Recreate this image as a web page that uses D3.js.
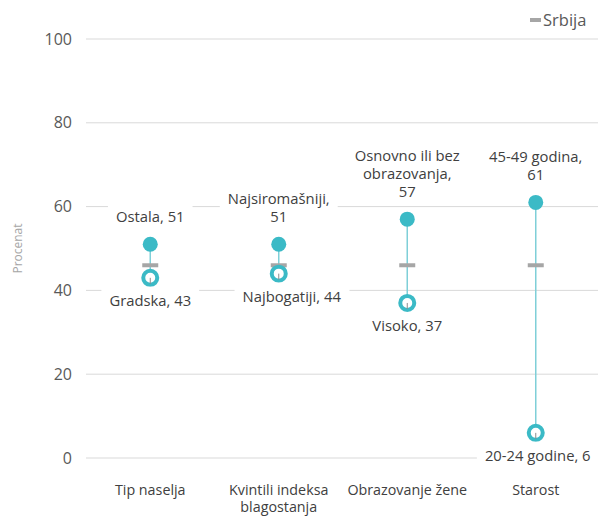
<!DOCTYPE html>
<html><head><meta charset="utf-8">
<script src="https://cdn.jsdelivr.net/npm/d3@7"></script>
<style>body{margin:0;background:#fff}svg{display:block}</style>
</head><body>
<svg id="c" width="598" height="516"></svg>
<script>
const categories = [["Tip naselja"], ["Kvintili indeksa", "blagostanja"], ["Obrazovanje žene"], ["Starost"]];
const highValues = [51, 51, 57, 61];
const highLabels = [["Ostala, 51"], ["Najsiromašniji,", "51"], ["Osnovno ili bez", "obrazovanja,", "57"], ["45-49 godina,", "61"]];
const lowValues = [43, 44, 37, 6];
const lowLabels = ["Gradska, 43", "Najbogatiji, 44", "Visoko, 37", "20-24 godine, 6"];
const serbiaValue = 46;
const yTicks = [0, 20, 40, 60, 80, 100];
const legendLabel = "Srbija";
const yTitle = "Procenat";

const font = "'Open Sans', sans-serif";
const svg = d3.select("#c");
const W = 598, H = 516;
const m = {left: 86, right: -2, top: 39, bottom: 58};
const x = d3.scaleBand().domain(d3.range(categories.length)).range([m.left, W - m.right]);
const y = d3.scaleLinear().domain([0, 100]).range([H - m.bottom, m.top]);
const teal = "#3bbac6", lineC = "#7fcfd8", grey = "#a6a6a6", txt = "#404040";

// gridlines
svg.append("g").selectAll("line").data(yTicks).join("line")
  .attr("x1", m.left).attr("x2", W).attr("y1", d => y(d)).attr("y2", d => y(d))
  .attr("stroke", "#d9d9d9").attr("stroke-width", 1);

// y axis
const ya = svg.append("g").attr("transform", `translate(${m.left},0)`)
  .call(d3.axisLeft(y).tickValues(yTicks).tickSize(0).tickPadding(14));
ya.select(".domain").remove();
ya.selectAll("text").attr("font-family", font).attr("font-size", 16).attr("fill", "#595959");

svg.append("text").attr("transform", `translate(22,${(y(0)+y(100))/2}) rotate(-90)`)
  .attr("text-anchor", "middle").attr("font-family", font).attr("font-size", 12).attr("fill", "#a6a6a6").text(yTitle);

// x labels
const xa = svg.append("g");
categories.forEach((lines, i) => {
  const t = xa.append("text").attr("text-anchor", "middle").attr("font-family", font).attr("font-size", 14.3).attr("fill", txt)
    .attr("x", x(i) + x.bandwidth()/2).attr("y", H - m.bottom + 37);
  lines.forEach((l, j) => t.append("tspan").attr("x", x(i) + x.bandwidth()/2).attr("dy", j ? 17 : 0).text(l));
});

const cx = i => x(i) + x.bandwidth()/2;
const g = svg.append("g");
categories.forEach((c, i) => {
  g.append("line").attr("x1", cx(i)).attr("x2", cx(i)).attr("y1", y(highValues[i])).attr("y2", y(lowValues[i]))
    .attr("stroke", lineC).attr("stroke-width", 1.5);
  g.append("rect").attr("x", cx(i) - 8).attr("y", y(serbiaValue) - 2).attr("width", 16).attr("height", 4).attr("fill", grey);
  g.append("circle").attr("cx", cx(i)).attr("cy", y(highValues[i])).attr("r", 7.5).attr("fill", teal);
  g.append("circle").attr("cx", cx(i)).attr("cy", y(lowValues[i])).attr("r", 7).attr("fill", "#fff").attr("stroke", teal).attr("stroke-width", 4);
  g.append("line").attr("x1", cx(i)).attr("x2", cx(i)).attr("y1", y(lowValues[i])).attr("y2", y(lowValues[i]) + 6)
    .attr("stroke", "#8c8c8c").attr("stroke-width", 1);
});

// labels with white background
function label(xc, ybase, lines) {
  const gg = svg.append("g");
  const t = gg.append("text").attr("text-anchor", "middle").attr("font-family", font).attr("font-size", 14.8).attr("fill", txt);
  lines.forEach((l, j) => t.append("tspan").attr("x", xc).attr("y", ybase + j * 18).text(l));
  const b = t.node().getBBox();
  gg.insert("rect", "text").attr("x", b.x - 8).attr("y", b.y - 3).attr("width", b.width + 16).attr("height", b.height + 6).attr("fill", "#fff");
}
categories.forEach((c, i) => {
  const n = highLabels[i].length;
  label(cx(i), y(highValues[i]) - 22 - (n - 1) * 18, highLabels[i]);
});
const lowDx = [0, 13, 0, 2];
categories.forEach((c, i) => {
  label(cx(i) + lowDx[i], y(lowValues[i]) + 28, [lowLabels[i]]);
});

// legend
svg.append("rect").attr("x", 530).attr("y", 18).attr("width", 11).attr("height", 4).attr("fill", grey);
svg.append("text").attr("x", 543).attr("y", 26).attr("font-family", font).attr("font-size", 16.5).attr("fill", "#595959").text(legendLabel);
</script>
</body></html>
